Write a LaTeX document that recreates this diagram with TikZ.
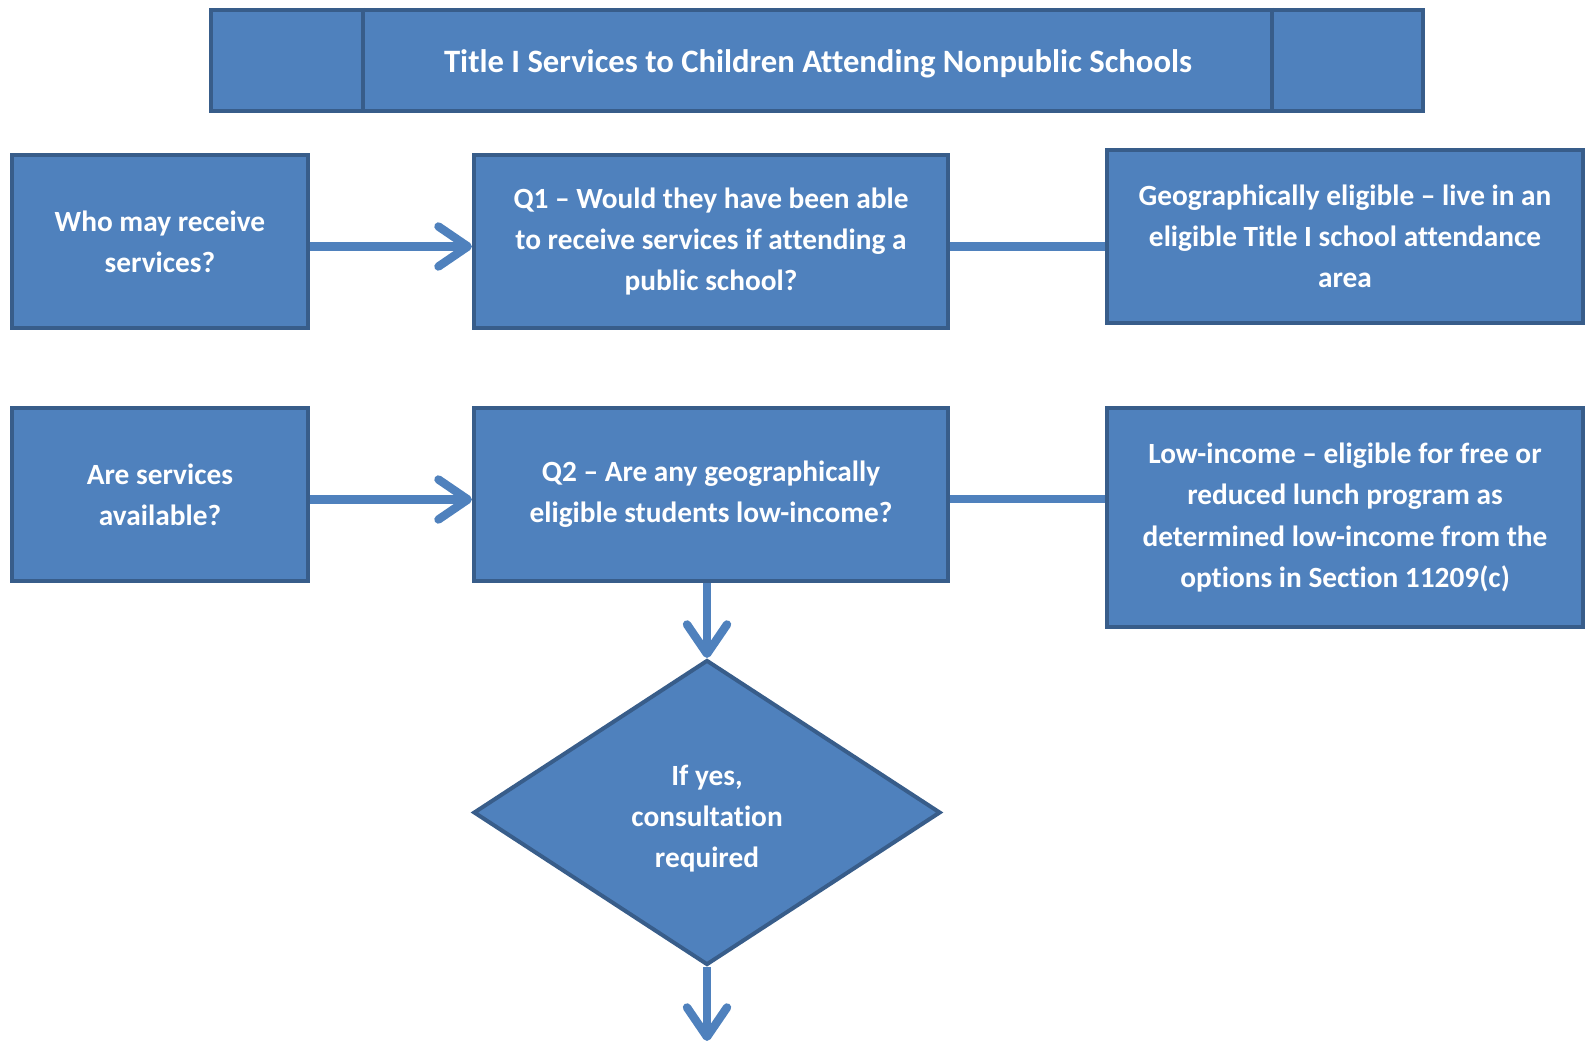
\documentclass[tikz,border=0pt]{standalone}
\usepackage{fontspec}
\setmainfont{Carlito}[Ligatures=NoCommon]
\usetikzlibrary{shapes.geometric,arrows.meta}
\definecolor{boxfill}{HTML}{4F81BD}
\definecolor{boxline}{HTML}{385D8A}
\tikzset{
  boxfont/.style={text=white, align=center, font=\bfseries\fontsize{22pt}{30.8pt}\selectfont},
  box/.style={draw=boxline, fill=boxfill, line width=3pt, boxfont, inner sep=0pt},
  conn/.style={draw=boxfill, line width=6.3pt},
  arr/.style={conn, -{Straight Barb[length=22pt,width=30pt,round]}},
}
\begin{document}
\begin{tikzpicture}[x=0.75pt,y=-0.75pt]
\useasboundingbox (0,0) rectangle (1585,1041);
\node[box, minimum width=909pt, minimum height=75.75pt] (title) at (817,60.5) {};
\node[boxfont, font=\bfseries\fontsize{24.5pt}{30pt}\selectfont] (titletext) at (818,64)
  {Title I Services to Children Attending Nonpublic Schools};
\draw[draw=boxline, line width=3pt] (title.north -| 363,0) -- (title.south -| 363,0);
\draw[draw=boxline, line width=3pt] (title.north -| 1272,0) -- (title.south -| 1272,0);

\node[box, minimum width=222pt, minimum height=129.75pt] (who) at (160,241.5)
  {Who may receive\\services?};
\node[box, minimum width=355.5pt, minimum height=129.75pt] (q1) at (711,241.5)
  {Q1 -- Would they have been able\\to receive services if attending a\\public school?};
\node[box, minimum width=357pt, minimum height=129.75pt] (geo) at (1345,236.5)
  {Geographically eligible -- live in an\\eligible Title I school attendance\\area};

\node[box, minimum width=222pt, minimum height=129.75pt] (are) at (160,494.5)
  {Are services\\available?};
\node[box, minimum width=355.5pt, minimum height=129.75pt] (q2) at (711,494.5)
  {Q2 -- Are any geographically\\eligible students low-income?};
\node[box, minimum width=357pt, minimum height=164.25pt] (low) at (1345,517.5)
  {Low-income -- eligible for free or\\reduced lunch program as\\determined low-income from the\\options in Section 11209(c)};

\node[box, diamond, minimum width=350.25pt, minimum height=228.75pt] (dia) at (707,812.5) {};
\node[boxfont] (diatext) at (707,819)
  {If yes,\\consultation\\required};
\coordinate (end) at (707,1041);

\draw[arr] ([yshift=-3.75pt]who.east) -- ([yshift=-3.75pt]q1.west);
\draw[arr] ([yshift=-3.75pt]are.east) -- ([yshift=-3.75pt]q2.west);
\draw[conn] ([yshift=-3.75pt]q1.east) -- ([yshift=-3.75pt]q1.east -| geo.west);
\draw[conn] ([yshift=-3.4pt]q2.east) -- ([yshift=-3.4pt]q2.east -| low.west);
\draw[arr] (q2.south -| dia.north) -- (dia.north);
\draw[arr] (dia.south) -- (end);
\end{tikzpicture}
\end{document}
